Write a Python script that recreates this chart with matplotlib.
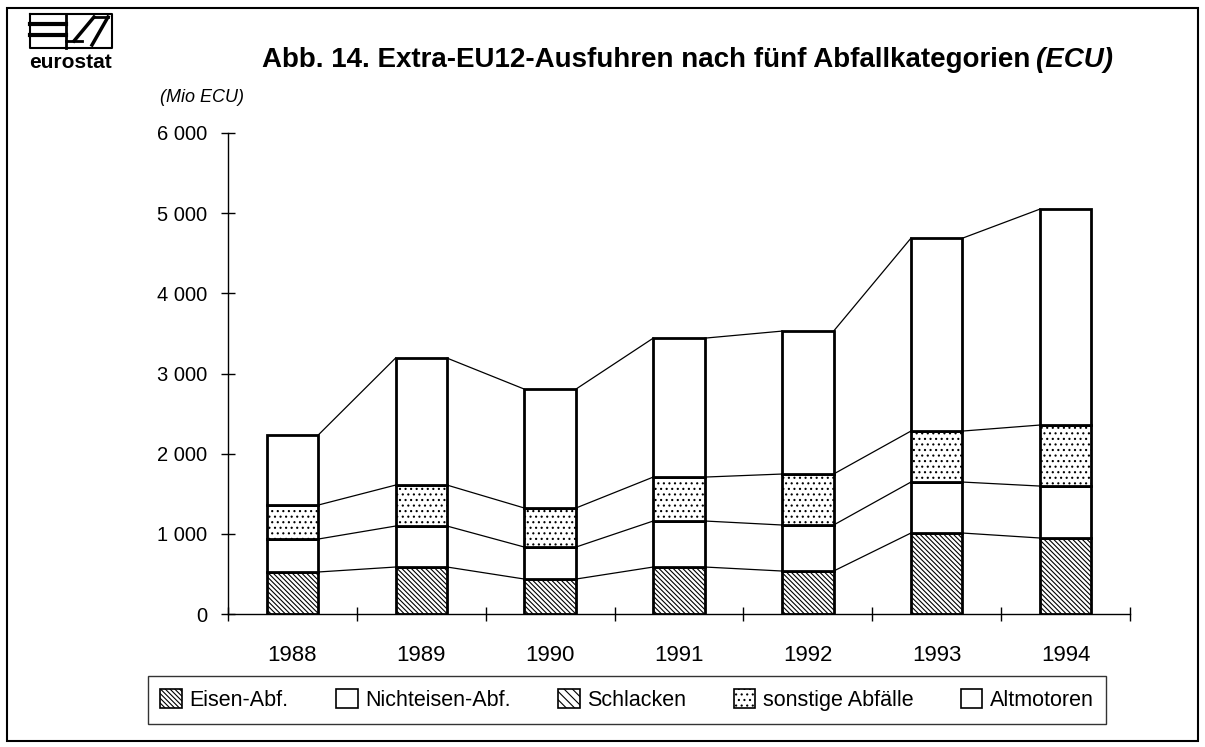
import matplotlib
matplotlib.use("Agg")
import matplotlib.pyplot as plt
from matplotlib.patches import Rectangle, Patch
from matplotlib.lines import Line2D
import numpy as np

plt.rcParams['font.family'] = ['Liberation Sans', 'DejaVu Sans']
plt.rcParams['hatch.linewidth'] = 0.8

years = ['1988', '1989', '1990', '1991', '1992', '1993', '1994']
series_names = ['Eisen-Abf.', 'Nichteisen-Abf.', 'Schlacken', 'sonstige Abfälle', 'Altmotoren']
eisen = [524, 586, 436, 586, 536, 1010, 948]
nichteisen = [411, 511, 399, 574, 574, 636, 648]
schlacken = [0, 0, 0, 0, 0, 0, 0]
sonstige = [424, 511, 487, 548, 636, 636, 761]
altmotoren = [873, 1584, 1483, 1733, 1783, 2406, 2693]
yticks = [0, 1000, 2000, 3000, 4000, 5000, 6000]
ytick_labels = ['0', '1 000', '2 000', '3 000', '4 000', '5 000', '6 000']

series = [eisen, nichteisen, schlacken, sonstige, altmotoren]
hatches = ['\\\\\\\\\\\\\\', '', '\\\\\\\\', '...', '']

W, H = 1205, 747
fig = plt.figure(figsize=(W / 100, H / 100), dpi=100)
fig.patch.set_facecolor('white')

ax = fig.add_axes([228 / W, 1 - 614 / H, (1130 - 228) / W, (614 - 133) / H])
x = np.arange(len(years))
bw = 0.4
bottom = np.zeros(len(years))
tops = []
for vals, h in zip(series, hatches):
    vals = np.array(vals, dtype=float)
    ax.bar(x, vals, bw, bottom=bottom, facecolor='white', edgecolor='black',
           linewidth=2.0, hatch=h, zorder=3)
    bottom = bottom + vals
    tops.append(bottom.copy())

# connector lines between bars
for i, t in enumerate(tops):
    if i == 2:
        continue
    for j in range(len(years) - 1):
        ax.plot([x[j] + bw / 2, x[j + 1] - bw / 2], [t[j], t[j + 1]],
                color='black', linewidth=0.9, zorder=2)

ax.set_xlim(-0.5, len(years) - 0.5)
ax.set_ylim(0, 6000)
for s in ['top', 'right']:
    ax.spines[s].set_visible(False)
ax.spines['left'].set_linewidth(1.0)
ax.spines['bottom'].set_linewidth(1.0)
ax.set_yticks(yticks)
ax.set_yticklabels(ytick_labels, fontsize=14.5)
ax.tick_params(axis='y', direction='inout', length=10, width=1.0, pad=10)
ax.set_xticks(x)
ax.set_xticklabels(years, fontsize=16)
ax.tick_params(axis='x', which='major', length=0, pad=22)
ax.set_xticks(np.arange(-0.5, len(years)), minor=True)
ax.tick_params(axis='x', which='minor', direction='inout', length=10, width=1.0)

# legend
handles = [Patch(facecolor='white', edgecolor='black', hatch=h, linewidth=1.2) for h in hatches]
leg = fig.legend(handles, series_names, loc='center', bbox_to_anchor=(627 / W, 1 - 700 / H),
                 ncol=5, fontsize=15.5, frameon=True, fancybox=False, edgecolor='black',
                 handlelength=1.0, handleheight=1.0, handletextpad=0.35, columnspacing=2.2,
                 borderpad=0.6)
leg.get_frame().set_linewidth(1.0)

# title and labels
t1 = fig.text(262 / W, 1 - 60 / H, 'Abb. 14. Extra-EU12-Ausfuhren nach fünf Abfallkategorien',
              fontsize=20, fontweight='bold', va='center', ha='left')
fig.canvas.draw()
bb = t1.get_window_extent(renderer=fig.canvas.get_renderer())
fig.text((bb.x1 + 6) / W, 1 - 60 / H, '(ECU)', fontsize=20, fontweight='bold', style='italic',
         va='center', ha='left')
fig.text(160 / W, 1 - 97 / H, '(Mio ECU)', fontsize=13, style='italic', va='center', ha='left')

# logo
lx0, lx1, ly0, ly1 = 30, 112, 14, 48
def L(xs, ys, lw=2.0):
    fig.add_artist(Line2D([v / W for v in xs], [1 - v / H for v in ys], color='black', linewidth=lw))
L([lx0, lx1, lx1, lx0, lx0], [ly0, ly0, ly1, ly1, ly0], 1.5)
L([lx0, 66], [ly0 + 10, ly0 + 10], 3)
L([lx0, 66], [ly0 + 21, ly0 + 21], 3)
L([66, 66], [ly0, ly1], 2)
L([66, 82], [ly0 + 27, ly0 + 27], 2)
L([74, 94], [ly0 + 27, ly0 + 3], 2.5)
L([92, 108], [ly1 - 3, ly0 + 3], 2.5)
L([94, 108], [ly0 + 3, ly0 + 3], 2)
fig.text(71 / W, 1 - 62 / H, 'eurostat', fontsize=15, fontweight='bold', ha='center', va='center')

# outer frame
fig.add_artist(Rectangle((7 / W, 1 - 741 / H), (1198 - 7) / W, (741 - 8) / H,
                         transform=fig.transFigure, fill=False, edgecolor='black', linewidth=1.5))

fig.savefig('out.png', dpi=100, facecolor='white')
